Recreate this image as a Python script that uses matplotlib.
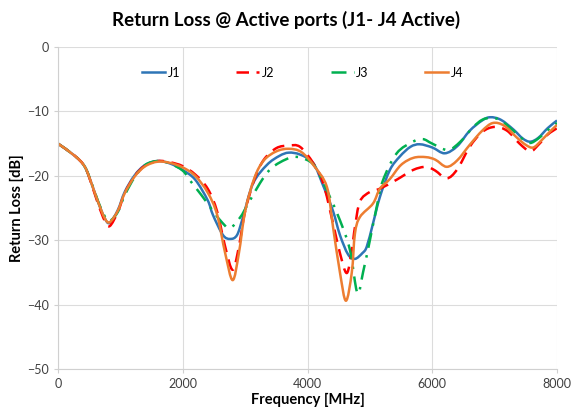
import numpy as np
import matplotlib.pyplot as plt
from matplotlib.path import Path
from matplotlib.patches import PathPatch
from matplotlib.lines import Line2D

plt.rcParams['font.family'] = ['Lato', 'DejaVu Sans']

# return loss per port (MHz, dB)
f_j1 = [0, 270, 430, 545, 640, 750, 830, 960, 1070, 1230, 1400, 1600, 1800, 2000, 2200,
        2400, 2485, 2645, 2760, 2870, 2966, 3126, 3350, 3550, 3700, 3880, 4090, 4250,
        4410, 4520, 4650, 4760, 4880, 4950, 5050, 5160, 5320, 5480, 5650, 5800, 6000,
        6200, 6400, 6600, 6800, 6930, 7100, 7300, 7450, 7570, 7700, 7850, 8000]
rl_j1 = [-15, -16.9, -18.6, -21.4, -24.0, -26.6, -27.3, -25.3, -22.5, -19.9, -18.3, -17.7,
         -18.1, -19.1, -20.6, -23.8, -26.1, -29.2, -29.8, -29.2, -26.4, -21.2, -18.3,
         -16.9, -16.4, -16.7, -18.0, -21.5, -25.5, -29.2, -32.2, -32.9, -32.0, -31.0,
         -27.4, -23.3, -19.1, -17.0, -15.5, -15.1, -15.6, -16.5, -15.4, -13.0, -11.4,
         -10.9, -11.3, -12.8, -14.2, -14.7, -14.1, -12.6, -11.4]

f_j2 = [0, 270, 430, 545, 640, 750, 830, 960, 1070, 1230, 1400, 1600, 1800, 2000, 2200,
        2400, 2550, 2680, 2800, 2900, 3000, 3150, 3300, 3500, 3700, 3880, 4090, 4250,
        4410, 4520, 4630, 4710, 4760, 4840, 5000, 5160, 5430, 5690, 5900, 6050, 6230,
        6400, 6600, 6800, 7000, 7200, 7400, 7570, 7700, 7850, 8000]
rl_j2 = [-15, -16.9, -18.6, -21.5, -24.3, -27.0, -27.8, -25.6, -22.7, -20.0, -18.4, -17.7,
         -17.9, -18.5, -19.8, -22.0, -25.5, -31.0, -34.6, -31.0, -25.5, -20.5, -17.5,
         -15.7, -15.3, -15.5, -18.0, -21.1, -27.4, -32.0, -35.1, -31.5, -28.0, -24.0,
         -22.5, -22.0, -20.6, -19.1, -18.6, -19.2, -20.4, -19.0, -15.5, -13.2, -12.4,
         -13.0, -15.0, -16.2, -15.2, -13.6, -12.6]

f_j3 = [0, 270, 430, 545, 640, 750, 830, 960, 1070, 1230, 1400, 1600, 1800, 2000, 2115,
        2300, 2450, 2600, 2750, 2917, 3050, 3240, 3400, 3560, 3750, 3900, 4090, 4250,
        4360, 4520, 4680, 4800, 4890, 5000, 5110, 5210, 5430, 5690, 5850, 6000, 6250,
        6450, 6650, 6800, 6950, 7100, 7300, 7450, 7570, 7700, 7850, 8000]
rl_j3 = [-15, -16.9, -18.6, -21.3, -23.9, -26.3, -27.0, -25.6, -23.0, -20.2, -18.3, -17.7,
         -18.1, -19.2, -20.7, -23.0, -25.0, -26.9, -28.1, -26.5, -24.3, -21.1, -19.0,
         -17.9, -17.1, -17.2, -18.2, -21.0, -23.3, -26.9, -31.5, -38.2, -35.0, -30.0,
         -24.8, -20.7, -16.5, -14.7, -14.3, -15.0, -16.0, -14.7, -12.5, -11.3, -11.0,
         -11.4, -13.0, -14.3, -14.9, -14.2, -12.9, -11.8]

f_j4 = [0, 270, 430, 545, 640, 750, 830, 960, 1070, 1230, 1400, 1600, 1800, 2000, 2200,
        2400, 2550, 2680, 2800, 2900, 3000, 3150, 3300, 3500, 3700, 3900, 4100, 4310,
        4410, 4520, 4616, 4710, 4760, 4840, 5050, 5160, 5320, 5500, 5700, 5900, 6050,
        6230, 6400, 6600, 6800, 6970, 7150, 7350, 7500, 7620, 7750, 7900, 8000]
rl_j4 = [-15, -16.9, -18.6, -21.4, -24.0, -26.6, -27.2, -25.4, -22.7, -20.1, -18.5, -17.8,
         -18.0, -18.7, -20.0, -22.6, -26.0, -32.0, -36.2, -32.0, -25.5, -20.3, -17.6,
         -16.2, -15.8, -16.3, -18.4, -21.7, -28.0, -35.0, -39.4, -35.0, -29.0, -26.4,
         -24.3, -22.0, -20.5, -18.3, -17.2, -17.1, -17.5, -18.6, -17.6, -15.2, -13.0,
         -11.8, -12.2, -14.0, -15.2, -15.6, -14.5, -13.0, -12.1]

labels = ['J1', 'J2', 'J3', 'J4']
colors = ['#2e75b6', '#ff0000', '#00b050', '#ed7d31']
styles = ['-', (0, (5, 3)), (0, (6, 3, 1, 3)), '-']


### smoothed line like excel: bezier through the points (catmull-rom handles)
def smooth_path(x, y):
    p = np.column_stack([x, y]).astype(float)
    verts = [p[0]]
    codes = [Path.MOVETO]
    for i in range(len(p) - 1):
        p0 = p[max(i - 1, 0)]
        p1 = p[i]
        p2 = p[i + 1]
        p3 = p[min(i + 2, len(p) - 1)]
        verts += [p1 + (p2 - p0) / 6, p2 - (p3 - p1) / 6, p2]
        codes += [Path.CURVE4] * 3
    return Path(verts, codes)


fig = plt.figure(figsize=(5.72, 4.2), dpi=100)
ax = fig.add_axes([0.1014, 0.1214, 0.8724, 0.7666])

series = [(f_j1, rl_j1), (f_j2, rl_j2), (f_j3, rl_j3), (f_j4, rl_j4)]
handles = []
for (fx, ry), lab, c, ls in zip(series, labels, colors, styles):
    ax.add_patch(PathPatch(smooth_path(fx, ry), fill=False, edgecolor=c, lw=1.8,
                           linestyle=ls, capstyle='butt', joinstyle='round'))
    handles.append(Line2D([], [], color=c, lw=1.8, linestyle=ls, label=lab))

ax.set_xlim(0, 8000)
ax.set_ylim(-50, 0)
ax.set_xticks(np.arange(0, 8001, 2000))
ax.set_yticks(np.arange(-50, 1, 10))
ax.grid(True, color='#dcdcdc', lw=0.8)
ax.set_axisbelow(True)
for s in ['top', 'right']:
    ax.spines[s].set_visible(False)
for s in ['left', 'bottom']:
    ax.spines[s].set_color('#d0d0d0')
ax.tick_params(colors='#d0d0d0', labelcolor='#404040', labelsize=9, length=3)

ax.set_xlabel('Frequency [MHz]', fontsize=10.5, fontweight='bold', labelpad=2)
ax.set_ylabel('Return Loss [dB]', fontsize=10.5, fontweight='bold', labelpad=2)
fig.suptitle('Return Loss @ Active ports (J1- J4 Active)', fontsize=13.5,
             fontweight='bold', y=0.975)

ax.legend(handles=handles, loc='center', bbox_to_anchor=(0.49, 0.92), ncol=4,
          frameon=False, fontsize=9, handlelength=1.85, handletextpad=0.2,
          columnspacing=4.5)

fig.savefig('out.png', dpi=100)
